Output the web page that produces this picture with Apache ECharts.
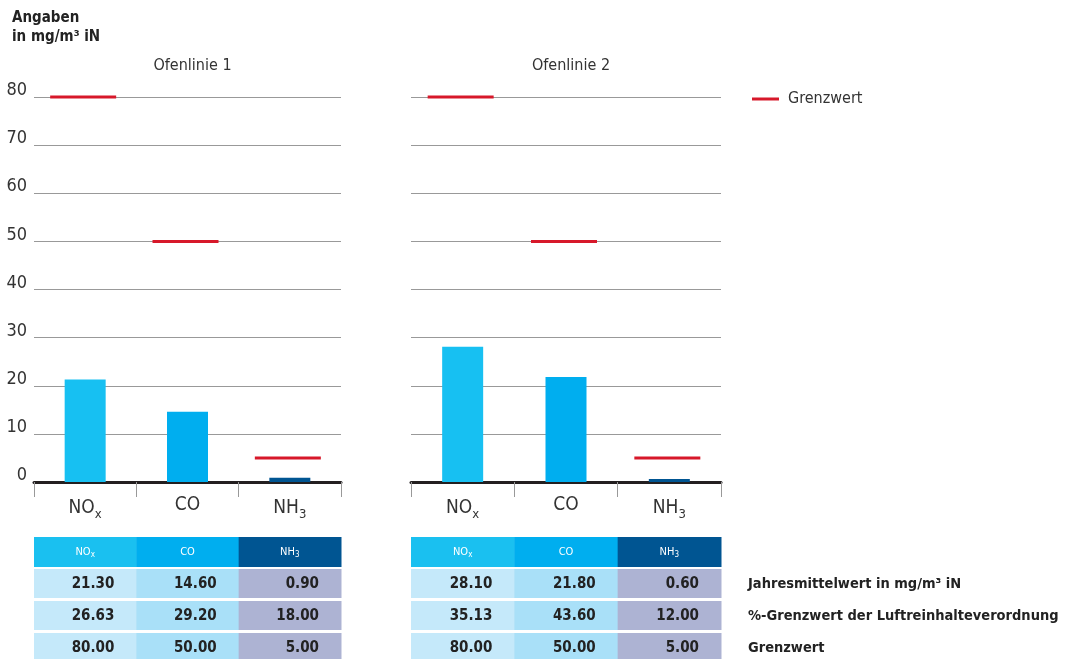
<!DOCTYPE html>
<html>
<head>
<meta charset="utf-8">
<script src="https://cdn.jsdelivr.net/npm/echarts@6/dist/echarts.min.js"></script>
<style>html,body{margin:0;padding:0;background:#fff}#main{width:1065px;height:659px}</style>
</head>
<body>
<div id="main"></div>
<script>
// Werte aus der Grafik
var categories = ['NOx', 'CO', 'NH3'];
var ofenlinien = ['Ofenlinie 1', 'Ofenlinie 2'];
var mittel1 = [21.30, 14.60, 0.90];
var mittel2 = [28.10, 21.80, 0.60];
var prozent1 = [26.63, 29.20, 18.00];
var prozent2 = [35.13, 43.60, 12.00];
var grenzwert = [80, 50, 5];
var rowNames = ['Jahresmittelwert in mg/m³ iN', '%-Grenzwert der Luftreinhalteverordnung', 'Grenzwert'];

var font = "'Liberation Sans Narrow','DejaVu Sans Condensed','Open Sans',sans-serif";
var barColors = ['#17c0f2', '#00aeef', '#005592'];
var headColors = ['#1ac0f0', '#00aeef', '#005592'];
var cellColors = ['#c5e9fa', '#a9e0f8', '#adb3d3'];
var grids = [{left: 34, width: 307}, {left: 411, width: 310}];

var myChart = echarts.init(document.getElementById('main'));

function catLabel(v) {
    if (v == 'NOx') return '{m|NO}{s|x}';
    if (v == 'NH3') return '{m|NH}{s|3}';
    return '{m|' + v + '}';
}

function xAxis(i) {
    return {
        type: 'category', gridIndex: i, data: categories,
        axisLine: {lineStyle: {color: '#231f20', width: 3}},
        axisTick: {show: true, length: 15, lineStyle: {color: '#999', width: 1}},
        axisLabel: {
            margin: 14, formatter: catLabel,
            rich: {
                m: {fontFamily: font, fontSize: 19, color: '#333'},
                s: {fontFamily: font, fontSize: 13, color: '#333', padding: [12, 0, 0, 0]}
            }
        }
    };
}

function yAxis(i) {
    return {
        type: 'value', gridIndex: i, min: 0, max: 80, interval: 10,
        axisLine: {show: false}, axisTick: {show: false},
        axisLabel: {show: i == 0, margin: 7, fontFamily: font, fontSize: 18, color: '#333', verticalAlign: 'bottom', lineHeight: 13},
        splitLine: {lineStyle: {color: '#999', width: 1}}
    };
}

function barSeries(i, vals) {
    return {
        type: 'bar', xAxisIndex: i, yAxisIndex: i, barWidth: 41,
        data: vals.map(function (v, k) { return {value: v, itemStyle: {color: barColors[k]}}; }),
        silent: true, z: 2
    };
}

function grenzSeries(i) {
    return {
        name: 'Grenzwert', type: 'scatter', xAxisIndex: i, yAxisIndex: i,
        symbol: 'rect', symbolSize: [66, 3], symbolOffset: [-2, 0],
        itemStyle: {color: '#d7182a', opacity: 1},
        data: grenzwert, z: 3
    };
}

// Tabellen
var graphics = [];
var tables = [[mittel1, prozent1, grenzwert], [mittel2, prozent2, grenzwert]];
var headY = 537, headH = 30, rowY = [569, 601, 633], rowH = 29;
grids.forEach(function (g, gi) {
    var cw = g.width / 3;
    categories.forEach(function (c, k) {
        var x = g.left + k * cw;
        graphics.push({type: 'rect', shape: {x: x, y: headY, width: cw + 0.5, height: headH}, style: {fill: headColors[k]}});
        graphics.push({
            type: 'text', x: x + cw / 2, y: headY + headH / 2,
            style: {
                text: catLabel(c), align: 'center', verticalAlign: 'middle',
                rich: {
                    m: {fontFamily: font, fontSize: 11, fill: '#fff'},
                    s: {fontFamily: font, fontSize: 8, fill: '#fff', padding: [6, 0, 0, 0]}
                }
            }
        });
        tables[gi].forEach(function (row, r) {
            graphics.push({type: 'rect', shape: {x: x, y: rowY[r], width: cw + 0.5, height: rowH}, style: {fill: cellColors[k]}});
            graphics.push({
                type: 'text', x: x + cw - 22, y: rowY[r] + rowH / 2 + 1,
                style: {text: row[k].toFixed(2), align: 'right', verticalAlign: 'middle', fontFamily: font, fontWeight: 'bold', fontSize: 15, fill: '#222'}
            });
        });
    });
});
rowNames.forEach(function (n, r) {
    graphics.push({
        type: 'text', x: 748, y: rowY[r] + rowH / 2 + 1,
        style: {text: n, verticalAlign: 'middle', fontFamily: font, fontWeight: 'bold', fontSize: 14.5, fill: '#222'}
    });
});
graphics.push({
    type: 'text', x: 12, y: 9,
    style: {text: 'Angaben\nin mg/m³ iN', fontFamily: font, fontWeight: 'bold', fontSize: 15, lineHeight: 19, fill: '#222'}
});

var option = {
    animation: false,
    title: ofenlinien.map(function (t, i) {
        return {
            text: t, left: grids[i].left + grids[i].width / 2, top: 53, textAlign: 'center',
            textStyle: {fontFamily: font, fontSize: 16, fontWeight: 'normal', color: '#333'}
        };
    }),
    legend: {
        left: 747, top: 86, icon: 'rect', itemWidth: 27, itemHeight: 3, itemGap: 10,
        data: ['Grenzwert'],
        textStyle: {fontFamily: font, fontSize: 16, color: '#333', padding: [0, 0, 0, 4]}
    },
    grid: grids.map(function (g) { return {left: g.left, width: g.width, top: 97, height: 385}; }),
    xAxis: [xAxis(0), xAxis(1)],
    yAxis: [yAxis(0), yAxis(1)],
    series: [barSeries(0, mittel1), barSeries(1, mittel2), grenzSeries(0), grenzSeries(1)],
    graphic: graphics
};
myChart.setOption(option);
</script>
</body>
</html>
